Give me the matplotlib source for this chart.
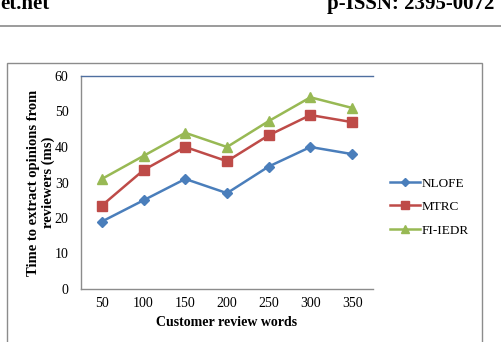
import matplotlib
matplotlib.use("Agg")
import matplotlib.pyplot as plt
from matplotlib.patches import Rectangle
from matplotlib.lines import Line2D

plt.rcParams['font.family'] = ['Liberation Serif', 'DejaVu Serif']

categories = ["50", "100", "150", "200", "250", "300", "350"]
nlofe = [19, 25, 31, 27, 34.5, 40, 38]
mtrc = [23.5, 33.5, 40, 36, 43.3, 49, 47]
fiiedr = [31, 37.5, 44, 40, 47.3, 54, 51]
series_names = ["NLOFE", "MTRC", "FI-IEDR"]
yticks = [0, 10, 20, 30, 40, 50, 60]

W, H = 501, 342
fig = plt.figure(figsize=(W / 100, H / 100), dpi=100)

# header
fig.text(0 / W, 1 - 9 / H, "et.net", ha='left', va='baseline',
         fontsize=15, fontweight='bold')
fig.text(494 / W, 1 - 9 / H, "p-ISSN: 2395-0072", ha='right', va='baseline',
         fontsize=15, fontweight='bold')
fig.add_artist(Line2D([0, 1], [1 - 26 / H, 1 - 26 / H], color='#8a8a8a', lw=1.2,
                      transform=fig.transFigure))

# chart outer box
fig.add_artist(Rectangle((7 / W, -0.05), (482 - 7) / W, 0.05 + (H - 63) / H,
                         transform=fig.transFigure, fill=False,
                         edgecolor='#8c8c8c', lw=1.0))

ax = fig.add_axes([81 / W, 53 / H, 292 / W, 213 / H])
x = list(range(len(categories)))
colors = ['#4A7EBB', '#BE4B48', '#98B954']
markers = ['D', 's', '^']
msizes = [5, 7, 7.5]
for vals, name, c, m, ms in zip([nlofe, mtrc, fiiedr], series_names, colors, markers, msizes):
    ax.plot(x, vals, color=c, lw=1.8, marker=m, markersize=ms, label=name)

ax.set_xlim(-0.5, len(categories) - 0.5)
ax.set_ylim(0, 60)
ax.set_xticks(x)
ax.set_xticklabels(categories)
ax.set_yticks(yticks)
ax.tick_params(axis='both', length=0, labelsize=10)
ax.tick_params(axis='y', pad=9)
ax.tick_params(axis='x', pad=6)
ax.spines['right'].set_visible(False)
ax.spines['top'].set_color('#4F6FA0')
ax.spines['left'].set_color('#8c8c8c')
ax.spines['bottom'].set_color('#8c8c8c')
for s in ax.spines.values():
    s.set_linewidth(1.0)

ax.set_xlabel("Customer review words", fontsize=10, fontweight='bold', labelpad=4)
ax.set_ylabel("Time to extract opinions from\nreviewers (ms)", fontsize=10.5,
              fontweight='bold', labelpad=0, linespacing=1.15)

ax.legend(loc='center left', bbox_to_anchor=(1.017, 0.385), frameon=False,
          fontsize=9.5, handlelength=2.3, labelspacing=0.85, handletextpad=0.1,
          markerscale=0.75)

fig.savefig("out.png", dpi=100)
